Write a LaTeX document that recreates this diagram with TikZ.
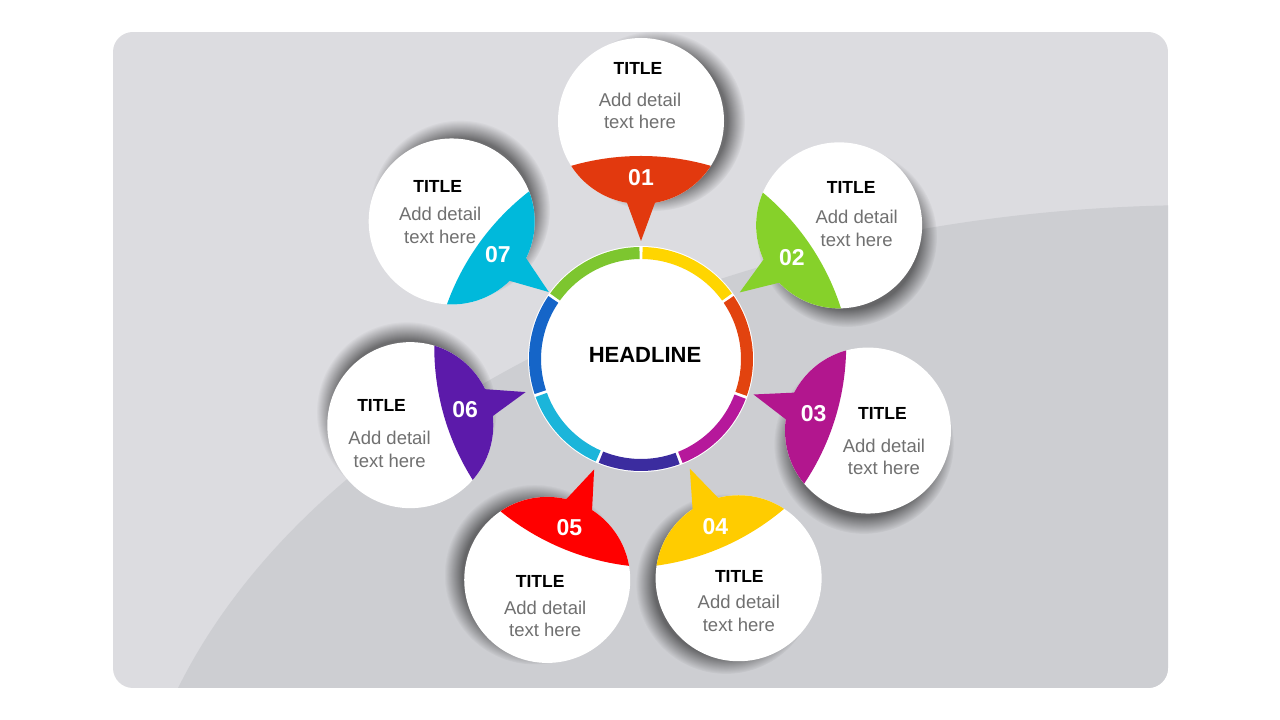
\documentclass[tikz,border=0pt]{standalone}
\usepackage{fontspec}
\setmainfont{Liberation Sans}
\usepackage{tikz}
\usetikzlibrary{calc}
\usetikzlibrary{fadings}
\usetikzlibrary{positioning}

\definecolor{panel}{HTML}{DCDCE0}
\definecolor{panelshade}{HTML}{CDCED2}
\definecolor{bodygray}{HTML}{707070}
% ring around the headline
\definecolor{ringA}{HTML}{FFD500}
\definecolor{ringB}{HTML}{E2430F}
\definecolor{ringC}{HTML}{B6189B}
\definecolor{ringD}{HTML}{3B2C9F}
\definecolor{ringE}{HTML}{1BB5DA}
\definecolor{ringF}{HTML}{1565C8}
\definecolor{ringG}{HTML}{7DC62F}
% caps of the bubbles
\definecolor{capA}{HTML}{E2390E}
\definecolor{capB}{HTML}{86D12A}
\definecolor{capC}{HTML}{B2168E}
\definecolor{capD}{HTML}{FFCC00}
\definecolor{capE}{HTML}{FF0000}
\definecolor{capF}{HTML}{5C1AAA}
\definecolor{capG}{HTML}{00B9DB}

\begin{document}
\begin{tikzpicture}[x=1pt,y=1pt,
    titletext/.style={inner sep=0,font=\bfseries\fontsize{17.5}{20}\selectfont},
    bodytext/.style={inner sep=0,align=center,text=bodygray,font=\fontsize{18.5}{22.6}\selectfont},
    numtext/.style={inner sep=0,text=white,font=\bfseries\fontsize{23}{26}\selectfont}]
    \useasboundingbox (0,0) rectangle (1280,720);
    \fill[white] (0,0) rectangle (1280,720);
    \begin{scope}
        \clip[rounded corners=20] (113,32) rectangle (1168,688);
        \fill[panel] (113,32) rectangle (1168,688);
        \fill[panelshade] (1205,-180) ellipse [x radius=1078, y radius=695];
    \end{scope}

    % hub
    \coordinate (hub) at (641,361);
    \fill[white] (hub) circle (113);
    \foreach \a/\b/\col in {90/35/ringA, 35/-20/ringB, -20/-69/ringC, -69/-113/ringD,
                            -113/-161/ringE, -161/-215/ringF, -215/-270/ringG}
        \fill[\col] ($(hub)+(\a-0.8:112)$) arc[start angle=\a-0.8, end angle=\b+0.8, radius=112]
            -- ($(hub)+(\b+0.8:100)$) arc[start angle=\b+0.8, end angle=\a-0.8, radius=100] -- cycle;
    \node[font=\bfseries\fontsize{22}{26}\selectfont] (headline) at ($(hub)+(4,4)$) {HEADLINE};

    % bubbles
    \foreach \ang/\dist/\num in {90/238/01, 34/239/02, -17.5/238/03, -66/240/04,
                                 -113/240/05, -164/240/06, 144/234/07}{
        \coordinate (s\num) at ($(hub)+(\ang:\dist)$);
        \fill[black, opacity=0.5, path fading=circle with fuzzy edge 20 percent]
            ($(s\num)+(\ang-90:14)$) circle (90);
    }
    \foreach \ang/\num/\col/\tx/\ty/\bx/\by in {90/01/capA/-3/53/2/18.5, 34/02/capB/12/38/5.5/16.5,
            -17.5/03/capC/14.5/16.6/1.5/18.5, -66/04/capD/0.7/1.9/-0.5/12.5, -113/05/capE/-7/-2/5/12.5,
            -164/06/capF/-28.7/20/8/19.5, 144/07/capG/-14/35/2.5/14.5}{
        \fill[white] (s\num) circle (83);
        \begin{scope}
            \clip (s\num) circle (83);
            \fill[\col] ($(s\num)+(\ang+180:285)$) circle (250);
        \end{scope}
        \fill[\col] ($(s\num)+(\ang+180:120)$) -- ($(s\num)+(\ang+160:64)$)
            -- ($(s\num)+(\ang+200:64)$) -- cycle;
        \node[numtext] (n\num) at ($(s\num)+(\ang+180:57)$) {\num};
        \node[titletext] (t\num) at ($(s\num)+(\tx,\ty)$) {TITLE};
        \node[bodytext, below=\by of t\num, xshift=\bx] (b\num) {Add detail\\text here};
    }
\end{tikzpicture}
\end{document}
